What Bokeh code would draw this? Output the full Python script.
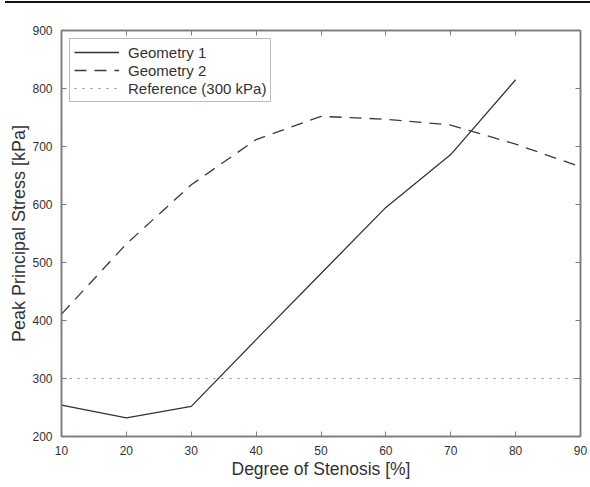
from bokeh.plotting import figure
from bokeh.models import Range1d, LinearAxis, FixedTicker, Legend, LegendItem, Div
from bokeh.layouts import column
from bokeh.embed import file_html
from bokeh.resources import INLINE

# data
stenosis = [10, 20, 30, 40, 50, 60, 70, 80, 90]
geometry1_x = [10, 20, 30, 40, 50, 60, 70, 80]
geometry1 = [254, 232, 252, 367, 481, 595, 686, 815]
geometry2 = [411, 532, 634, 712, 752, 747, 737, 704, 665]
reference_x = [10, 90]
reference = [300, 300]
x_ticks = [10, 20, 30, 40, 50, 60, 70, 80, 90]
y_ticks = [200, 300, 400, 500, 600, 700, 800, 900]

FONT = "Liberation Sans"
GREY = "#7a7a7a"
TXT = "#333333"

p = figure(width=588, height=469, output_backend="svg", toolbar_location=None,
           x_range=Range1d(10, 90), y_range=Range1d(200, 900),
           min_border_left=61, min_border_right=8, min_border_top=18, min_border_bottom=43,
           background_fill_color="white", border_fill_color="white")
p.grid.visible = False
p.outline_line_color = GREY
p.outline_line_width = 1.5

r1 = p.line(geometry1_x, geometry1, line_color="#333333", line_width=1.3)
r2 = p.line(stenosis, geometry2, line_color="#3a3a3a", line_width=1.3, line_dash="12 8")
r3 = p.line(reference_x, reference, line_color="#8a8a8a", line_width=1.2, line_dash="2 6")


def style_axis(ax, ticks, labels=True):
    ax.ticker = FixedTicker(ticks=ticks)
    ax.axis_line_color = GREY
    ax.axis_line_width = 1.5
    ax.major_tick_in = 5
    ax.major_tick_out = 0
    ax.major_tick_line_color = GREY
    ax.minor_tick_line_color = None
    ax.major_label_text_font = FONT
    ax.major_label_text_font_size = "12px" if labels else "0px"
    ax.major_label_text_color = TXT if labels else None
    ax.axis_label_text_font = FONT
    ax.axis_label_text_font_style = "normal"
    ax.axis_label_text_color = TXT


xa = p.xaxis[0]
ya = p.yaxis[0]
style_axis(xa, x_ticks)
style_axis(ya, y_ticks)
xa.axis_label = "Degree of Stenosis [%]"
xa.axis_label_text_font_size = "17.5px"
xa.major_label_standoff = 9
xa.axis_label_standoff = 1
ya.axis_label = "Peak Principal Stress [kPa]"
ya.axis_label_text_font_size = "18px"
ya.major_label_standoff = 9
ya.axis_label_standoff = 0

top = LinearAxis()
right = LinearAxis()
p.add_layout(top, "above")
p.add_layout(right, "right")
style_axis(top, x_ticks, labels=False)
style_axis(right, y_ticks, labels=False)
top.major_label_standoff = 0
right.major_label_standoff = 0

legend = Legend(items=[LegendItem(label="Geometry 1", renderers=[r1]),
                       LegendItem(label="Geometry 2", renderers=[r2]),
                       LegendItem(label="Reference (300 kPa)", renderers=[r3])],
                location="top_left")
legend.margin = 8
legend.padding = 4
legend.spacing = 0
legend.label_height = 18
legend.glyph_height = 18
legend.glyph_width = 45
legend.label_standoff = 9
legend.label_text_font = FONT
legend.label_text_font_size = "15px"
legend.label_text_color = TXT
legend.border_line_color = GREY
legend.border_line_width = 1.2
legend.background_fill_color = "white"
legend.background_fill_alpha = 1
p.add_layout(legend)

rule = Div(text="", width=588, height=2,
           styles={"background-color": "#111111", "position": "relative",
                   "top": "-4px"})

layout = column(rule, p, spacing=0)
open("out.html", "w").write(file_html(layout, INLINE))
